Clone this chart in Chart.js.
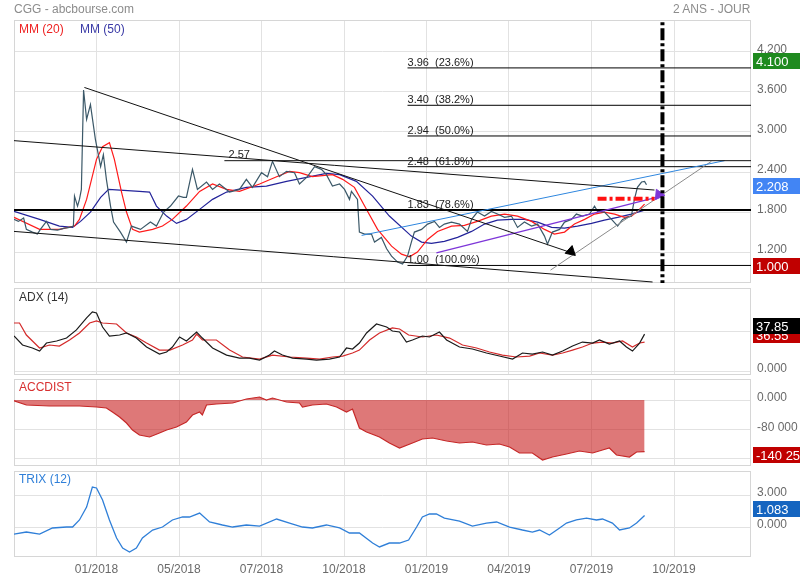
<!DOCTYPE html>
<html><head><meta charset="utf-8">
<script src="https://cdn.jsdelivr.net/npm/chart.js@4.4.1/dist/chart.umd.min.js"></script>
<style>
body{margin:0;background:#fff;width:800px;height:580px;overflow:hidden;font-family:"Liberation Sans",Arial,sans-serif;}
.c{position:absolute;left:0;}
.lbl{position:absolute;font-size:12px;white-space:nowrap;line-height:14px;z-index:5;}
</style></head><body>
<canvas id="cMain" class="c" style="top:0px" width="800" height="290"></canvas>
<canvas id="cAdx" class="c" style="top:286px" width="800" height="91"></canvas>
<canvas id="cAcc" class="c" style="top:377px" width="800" height="91"></canvas>
<canvas id="cTrix" class="c" style="top:469px" width="800" height="111"></canvas>
<div class="lbl" style="left:14px;top:2px;color:#8c8c8c">CGG - abcbourse.com</div>
<div class="lbl" style="left:673px;top:2px;color:#8c8c8c">2 ANS - JOUR</div>
<div class="lbl" style="left:19px;top:22px;color:#ee2222">MM (20)</div>
<div class="lbl" style="left:80px;top:22px;color:#3a3aa6">MM (50)</div>
<div class="lbl" style="left:19px;top:290px;color:#333">ADX (14)</div>
<div class="lbl" style="left:19px;top:380px;color:#d83030">ACCDIST</div>
<div class="lbl" style="left:19px;top:472px;color:#2f7fd8">TRIX (12)</div>
<script>
// ---------- X axis (months since 10/2017) ----------
const X_MAX = 26.8;
const X_TICK_MONTHS = [3, 6, 9, 12, 15, 18, 21, 24];
const X_TICK_LABELS = ['01/2018', '05/2018', '07/2018', '10/2018', '01/2019', '04/2019', '07/2019', '10/2019'];

// ---------- Price ----------
const PRICE_T = [0,0.16,0.35,0.45,0.67,0.85,0.96,1.18,1.33,1.58,1.84,2.02,2.16,2.2,2.31,2.38,2.45,2.53,2.64,2.78,2.96,3.15,3.25,3.36,3.51,3.62,3.87,4.09,4.27,4.6,4.96,5.18,5.44,5.69,5.98,6.16,6.27,6.49,6.67,7.0,7.22,7.47,7.84,8.2,8.45,8.67,9.0,9.22,9.4,9.65,9.91,10.2,10.38,10.67,10.93,11.18,11.36,11.58,11.84,12.02,12.2,12.27,12.49,12.56,12.75,13.0,13.11,13.36,13.55,13.73,13.95,14.13,14.31,14.45,14.56,14.82,15.04,15.29,15.47,15.65,15.91,16.2,16.49,16.64,16.85,17.11,17.36,17.58,17.84,18.09,18.31,18.56,18.82,19.04,19.29,19.4,19.58,19.84,20.02,20.27,20.45,20.67,20.93,21.11,21.22,21.47,21.73,21.95,22.13,22.31,22.45,22.56,22.67,22.82,22.93,23.0];
const PRICE = [1.69,1.66,1.71,1.54,1.50,1.47,1.54,1.66,1.54,1.53,1.56,1.57,1.59,2.04,1.89,1.99,2.14,3.63,3.19,3.41,2.89,2.48,2.66,2.29,1.89,1.65,1.50,1.35,1.59,1.54,1.65,1.59,1.80,1.89,2.04,2.02,2.02,2.44,2.14,2.25,2.14,2.22,2.10,2.14,2.29,2.17,2.39,2.33,2.56,2.33,2.41,2.39,2.22,2.33,2.48,2.44,2.36,2.19,2.22,2.14,1.99,2.11,1.99,1.50,1.47,1.47,1.35,1.42,1.25,1.14,1.05,1.02,1.14,1.35,1.50,1.54,1.62,1.66,1.57,1.62,1.65,1.62,1.51,1.69,1.80,1.74,1.81,1.77,1.72,1.74,1.57,1.65,1.59,1.62,1.44,1.32,1.50,1.54,1.65,1.69,1.77,1.74,1.77,1.89,1.81,1.80,1.69,1.59,1.69,1.72,1.74,1.99,2.17,2.25,2.26,2.208];

const MA20_T = [0,0.93,1.65,2.2,2.38,2.64,3.0,3.22,3.47,3.65,3.91,4.09,4.31,4.56,5.04,5.4,5.76,6.27,6.75,7.22,7.73,8.2,8.93,9.55,10.02,10.38,10.85,11.58,11.95,12.38,12.75,13.22,13.73,14.09,14.38,14.67,15.04,15.4,15.91,16.38,16.85,17.36,17.84,18.31,18.82,19.29,19.65,20.02,20.38,20.75,21.11,21.47,21.84,22.2,22.45,22.67,22.93];
const MA20 = [1.72,1.54,1.54,1.59,1.69,1.99,2.59,2.78,2.84,2.59,2.10,1.80,1.54,1.50,1.54,1.59,1.69,1.89,2.11,2.22,2.14,2.11,2.22,2.33,2.41,2.39,2.33,2.36,2.29,2.17,1.89,1.54,1.29,1.17,1.13,1.20,1.39,1.51,1.59,1.60,1.66,1.74,1.77,1.74,1.66,1.54,1.47,1.50,1.62,1.69,1.77,1.80,1.77,1.72,1.74,1.81,1.92];

const MA50_T = [0,0.93,1.65,2.13,2.42,2.78,3.15,3.44,4.56,4.93,5.18,5.55,5.91,6.27,6.75,7.22,7.73,8.45,9.18,9.91,10.64,11.36,11.84,12.45,13.04,13.65,14.45,14.82,15.18,15.65,16.13,16.64,17.11,17.58,18.09,18.56,19.04,19.55,20.02,20.49,21.0,21.47,21.95,22.45,22.93];
const MA50 = [1.81,1.69,1.59,1.57,1.66,1.80,2.02,2.14,2.11,2.10,1.89,1.74,1.63,1.69,1.84,1.99,2.10,2.17,2.19,2.26,2.32,2.38,2.36,2.26,2.04,1.74,1.44,1.35,1.33,1.36,1.42,1.51,1.62,1.68,1.69,1.69,1.65,1.57,1.56,1.59,1.63,1.68,1.72,1.77,1.83];

// ---------- Drawn studies (months, price) ----------
const TREND_A_T = [2.56, 20.2],  TREND_A_V = [3.667, 1.20];
const TREND_B_T = [0, 23.29],    TREND_B_V = [2.87, 2.13];
const TREND_C_T = [0, 23.22],    TREND_C_V = [1.51, 0.752];
const LEVEL_257_T = [7.65, X_MAX], LEVEL_257 = 2.57;
const TREND_BLUE_T = [12.64, 25.84], TREND_BLUE_V = [1.45, 2.57];
const TREND_PURPLE_T = [15.36, 23.36], TREND_PURPLE_V = [1.19, 2.02];
const TREND_GREY_T = [19.51, 25.36], TREND_GREY_V = [0.93, 2.56];
const RED_DASH_T = [21.22, 23.29], RED_DASH_V = 2.0;
const TODAY_T = 23.58;
const ARROW_BLACK = {x: 20.25, y: 1.21};
const ARROW_PURPLE = {x: 23.45, y: 2.06};
const FIB_START = 14.31;
const FIB_LEVELS = [3.96, 3.40, 2.94, 2.48, 1.83, 1.00];
const FIB_PCTS = ['23.6%', '38.2%', '50.0%', '61.8%', '78.6%', '100.0%'];
const MAIN_Y_TICKS = [1.2, 1.8, 2.4, 3.0, 3.6, 4.2];
const MAIN_BADGE_VALUES = [4.1, 2.208, 1.0];
const MAIN_BADGE_TEXT = ['4.100', '2.208', '1.000'];

// ---------- ADX ----------
const ADX_T = [0,0.31,0.67,0.93,1.18,1.55,1.91,2.27,2.64,2.85,3.0,3.22,3.47,3.84,4.09,4.45,4.82,5.29,5.55,5.76,6.02,6.27,6.64,6.85,7.22,7.73,8.2,8.56,8.93,9.29,9.47,9.76,10.13,10.64,11.0,11.47,11.84,12.09,12.31,12.56,12.82,13.18,13.55,13.76,14.02,14.27,14.49,14.85,15.11,15.47,15.73,16.2,16.67,17.18,17.65,18.13,18.49,18.85,19.22,19.58,19.95,20.31,20.67,21.04,21.29,21.65,22.02,22.27,22.49,22.75,22.93];
const ADX = [35.9,26.7,23.6,20.5,28.7,30.8,33.8,42.1,54.4,60.5,59.5,45.1,35.9,36.9,39.0,33.8,24.6,17.4,19.5,24.6,34.9,30.8,40.0,33.8,23.6,16.4,13.3,13.3,11.3,16.4,20.5,16.4,13.3,12.3,11.3,12.3,14.4,23.6,22.6,28.7,39.0,48.2,45.1,41.0,40.0,29.7,31.8,35.9,34.9,40.0,31.8,24.6,22.6,18.5,15.4,12.3,18.5,17.4,19.5,16.4,20.5,25.6,29.7,28.7,31.8,27.7,30.8,24.6,20.5,28.7,37.85];
const ADXR_T = [0,0.2,0.45,0.93,1.29,1.65,2.02,2.38,2.75,3.0,3.22,3.73,4.09,4.45,4.82,5.29,5.67,6.13,6.49,6.64,6.85,7.36,7.84,8.31,8.93,9.4,10.02,10.64,11.11,11.58,11.95,12.31,12.56,12.93,13.29,13.76,14.02,14.35,14.85,15.36,15.84,16.31,16.82,17.29,17.76,18.27,18.75,19.11,19.58,19.95,20.31,20.67,21.04,21.4,21.76,22.13,22.49,22.75,22.93];
const ADXR = [49.2,49.2,36.9,23.6,26.7,25.6,31.8,39.0,49.2,51.3,49.2,48.2,39.0,34.9,28.7,21.5,21.5,26.7,31.8,37.9,31.8,31.8,21.5,14.4,12.3,16.4,14.4,13.3,12.3,14.4,15.4,18.5,21.5,31.8,39.0,44.1,43.1,36.9,34.9,36.9,33.8,26.7,23.6,19.5,16.4,14.4,15.4,18.5,16.4,18.5,21.5,24.6,28.7,29.7,28.7,30.8,24.6,28.7,29.7];
const ADX_Y_TICKS = [0, 40];
const ADX_BADGE_VALUES = [36.55, 37.85];
const ADX_BADGE_TEXT = ['36.55', '37.85'];

// ---------- ACCDIST ----------
const ACC_T = [0,0.45,1.29,2.38,3.0,3.36,3.58,3.84,4.09,4.31,4.56,4.93,5.29,5.55,5.91,6.27,6.49,6.75,6.85,7.0,7.36,7.95,8.45,8.93,9.18,9.4,9.91,10.38,10.49,10.85,11.36,11.73,12.09,12.31,12.56,12.82,13.29,13.65,14.02,14.49,14.85,15.22,15.73,16.2,16.67,17.18,17.65,18.02,18.38,18.85,19.22,19.58,20.09,20.56,21.04,21.4,21.65,21.91,22.38,22.64,22.93];
const ACC = [-2000,-13500,-16300,-16300,-19000,-21700,-32500,-46100,-62400,-81400,-94900,-100300,-89500,-81400,-73200,-59700,-40700,-32500,-40700,-13600,-10800,-8100,2700,8100,0,5400,-5400,-8100,-19000,-13600,-10800,-19000,-32500,-24400,-75900,-86800,-100300,-116600,-130200,-116600,-105800,-103100,-111200,-116600,-113900,-122000,-119300,-127500,-143700,-143700,-162700,-154600,-146400,-138300,-143700,-135600,-130200,-149200,-154600,-141000,-140251];
const ACC_Y_TICKS = [0, -80000, -160000];
const ACC_Y_LABELS = ['0.000', '-80 000', ''];
const ACC_BADGE_VALUES = [-140251];
const ACC_BADGE_TEXT = ['-140 251'];

// ---------- TRIX ----------
const TRIX_T = [0,0.45,0.93,1.4,1.91,2.13,2.38,2.64,2.85,3.0,3.22,3.47,3.73,3.95,4.2,4.45,4.67,5.04,5.4,5.76,6.13,6.38,6.75,7.11,7.58,7.95,8.45,8.93,9.55,10.02,10.49,10.85,11.36,11.84,12.2,12.56,13.04,13.29,13.65,14.02,14.35,14.64,14.85,15.11,15.36,15.65,16.2,16.67,17.18,17.55,18.02,18.49,18.85,19.11,19.47,19.84,20.09,20.45,20.82,21.18,21.4,21.76,22.02,22.38,22.64,22.93];
const TRIX = [-0.66,-0.47,-0.66,-0.09,0,0,0.66,1.87,3.75,3.66,2.53,0.66,-1.03,-1.97,-2.34,-1.97,-1.03,-0.28,0,0.66,0.94,0.94,1.31,0.47,0.19,0,0.19,0.09,0.75,0.37,0,-0.09,0.19,-0.09,-0.56,-0.56,-1.5,-1.87,-1.5,-1.5,-1.22,0,0.94,1.22,1.22,0.84,0.56,0.09,0.37,0.47,0,-0.28,-0.47,-0.28,-0.75,-0.09,0.37,0.66,0.84,0.66,0.75,0.37,-0.28,-0.09,0.37,1.083];
const TRIX_Y_TICKS = [0, 3];
const TRIX_BADGE_VALUES = [1.083];
const TRIX_BADGE_TEXT = ['1.083'];

// ================= rendering =================
const FONT = '"Liberation Sans", Arial, sans-serif';
const GRID = '#e2e2e2';
const pts = (t, v) => t.map((x, i) => ({x, y: Array.isArray(v) ? v[i] : v}));
const ln = (t, v, color, width, extra) => Object.assign({
  data: pts(t, v), borderColor: color, borderWidth: width, pointRadius: 0,
  fill: false, tension: 0, borderCapStyle: 'butt'
}, extra || {});

const deco = {
  id: 'deco',
  beforeDatasetsDraw(chart) {
    const a = chart.chartArea, ctx = chart.ctx;
    ctx.save(); ctx.strokeStyle = '#d6d6d6'; ctx.lineWidth = 1;
    ctx.strokeRect(Math.round(a.left) + 0.5, Math.round(a.top) + 0.5, Math.round(a.right - a.left) - 1, Math.round(a.bottom - a.top) - 1);
    ctx.restore();
  },
  afterDatasetsDraw(chart, args, o) {
    const ctx = chart.ctx, xs = chart.scales.x, ys = chart.scales.y;
    ctx.save();
    ctx.font = '11px ' + FONT; ctx.fillStyle = '#222'; ctx.textBaseline = 'alphabetic'; ctx.textAlign = 'left';
    (o.texts || []).forEach(t => ctx.fillText(t.text, xs.getPixelForValue(t.x), ys.getPixelForValue(t.y) + t.dy));
    ctx.restore();
  },
  afterDraw(chart, args, o) {
    const ctx = chart.ctx, ys = chart.scales.y;
    ctx.save();
    (o.badges || []).forEach(b => {
      const y = Math.round(ys.getPixelForValue(b.value) + b.dy);
      ctx.fillStyle = b.color; ctx.fillRect(753, y - 8, 47, 16);
      ctx.fillStyle = '#fff'; ctx.font = '13px ' + FONT; ctx.textBaseline = 'middle'; ctx.textAlign = 'left';
      ctx.fillText(b.text, 756, y + 1);
    });
    ctx.restore();
  }
};

function makeChart(id, datasets, cfg) {
  return new Chart(document.getElementById(id), {
    type: 'line',
    data: {datasets},
    options: {
      responsive: false, animation: false, devicePixelRatio: 1,
      layout: {padding: {top: cfg.padTop, bottom: cfg.padBottom, left: 14, right: 0}},
      plugins: {legend: {display: false}, tooltip: {enabled: false}, deco: {texts: cfg.texts, badges: cfg.badges}},
      scales: {
        x: {
          type: 'linear', min: 0, max: X_MAX,
          afterBuildTicks: s => { s.ticks = X_TICK_MONTHS.map(v => ({value: v})); },
          afterFit: s => { s.height = cfg.xHeight; s.paddingLeft = 0; s.paddingRight = 0; s.paddingTop = 0; s.paddingBottom = 0; },
          grid: {color: GRID, drawTicks: false},
          border: {display: false},
          ticks: {display: cfg.showX, autoSkip: false, maxRotation: 0, padding: 5, color: '#6a6a6a',
                  font: {size: 12, family: FONT}, callback: (v, i) => X_TICK_LABELS[i]}
        },
        y: {
          position: 'right', min: cfg.yMin, max: cfg.yMax,
          afterBuildTicks: s => { s.ticks = cfg.yTicks.map(v => ({value: v})); },
          afterFit: s => { s.width = 49; s.paddingTop = 0; s.paddingBottom = 0; s.paddingLeft = 0; s.paddingRight = 0; },
          grid: {color: GRID, drawTicks: false},
          border: {display: false},
          ticks: {padding: 6, color: '#6a6a6a', labelOffset: -2, font: {size: 12, family: FONT}, callback: cfg.yLabel}
        }
      }
    },
    plugins: [deco]
  });
}

// ---- main price panel ----
const mainSets = [
  ln([TODAY_T, TODAY_T], [0.6, 4.8], '#000', 4, {borderDash: [12, 3, 3, 3]}),
  {type: 'scatter', data: [ARROW_BLACK], pointStyle: 'triangle', pointRadius: 6, pointRotation: 12, backgroundColor: '#000', borderColor: '#000', borderWidth: 1},
  {type: 'scatter', data: [ARROW_PURPLE], pointStyle: 'triangle', pointRadius: 6, pointRotation: 95, backgroundColor: '#7d35d8', borderColor: '#7d35d8', borderWidth: 1},
  ln(RED_DASH_T, RED_DASH_V, '#ff1010', 4, {borderDash: [9, 3, 3, 3]}),
  ln(TREND_A_T, TREND_A_V, '#111', 1),
  ln(TREND_B_T, TREND_B_V, '#111', 1),
  ln(TREND_C_T, TREND_C_V, '#111', 1),
  ln(LEVEL_257_T, LEVEL_257, '#111', 1),
  ln(TREND_BLUE_T, TREND_BLUE_V, '#2e86de', 1),
  ln(TREND_PURPLE_T, TREND_PURPLE_V, '#7d35d8', 1.3),
  ln(TREND_GREY_T, TREND_GREY_V, '#8a8a8a', 1),
].concat(FIB_LEVELS.map(l => l === 1.83
  ? ln([0, X_MAX], l, '#000', 2)
  : ln([FIB_START, X_MAX], l, '#000', 1))
).concat([
  ln(PRICE_T, PRICE, '#3b5868', 1.2),
  ln(MA20_T, MA20, '#ff1a1a', 1.2),
  ln(MA50_T, MA50, '#23239a', 1.2),
]);

const mainTexts = FIB_LEVELS.map((l, i) => ({x: FIB_START, y: l, dy: -2, text: l.toFixed(2) + '  (' + FIB_PCTS[i] + ')'}))
  .concat([{x: LEVEL_257_T[0] + 0.15, y: LEVEL_257, dy: -3, text: LEVEL_257.toFixed(2)}]);

const MAIN_BADGE_COLORS = ['#1f8a1f', '#4285f4', '#c00000'];
makeChart('cMain', mainSets, {
  padTop: 20, padBottom: 6, xHeight: 0, showX: false,
  yMin: 0.737, yMax: 4.678, yTicks: MAIN_Y_TICKS, yLabel: v => Number(v).toFixed(3),
  texts: mainTexts,
  badges: MAIN_BADGE_VALUES.map((v, i) => ({value: v, text: MAIN_BADGE_TEXT[i], color: MAIN_BADGE_COLORS[i], dy: [2, 1, 1][i]}))
});

// ---- ADX ----
makeChart('cAdx', [
  ln(ADX_T, ADX, '#1a1a1a', 1.2),
  ln(ADXR_T, ADXR, '#d42a2a', 1.2)
], {
  padTop: 2, padBottom: 2, xHeight: 0, showX: false,
  yMin: -4, yMax: 85, yTicks: ADX_Y_TICKS, yLabel: v => (v === 0 ? '0.000' : ''),
  badges: [
    {value: ADX_BADGE_VALUES[0], text: ADX_BADGE_TEXT[0], color: '#c00000', dy: 0},
    {value: ADX_BADGE_VALUES[1], text: ADX_BADGE_TEXT[1], color: '#000', dy: -8}
  ]
});

// ---- ACCDIST ----
makeChart('cAcc', [
  ln(ACC_T, ACC, '#c62828', 1.2, {fill: 'origin', backgroundColor: 'rgba(200,30,30,0.6)'})
], {
  padTop: 2, padBottom: 2, xHeight: 0, showX: false,
  yMin: -179000, yMax: 57000, yTicks: ACC_Y_TICKS, yLabel: (v, i) => ACC_Y_LABELS[i],
  badges: [{value: ACC_BADGE_VALUES[0], text: ACC_BADGE_TEXT[0], color: '#c00000', dy: 3}]
});

// ---- TRIX ----
makeChart('cTrix', [
  ln(TRIX_T, TRIX, '#2f7fd8', 1.3)
], {
  padTop: 2, padBottom: 0, xHeight: 23, showX: true,
  yMin: -2.81, yMax: 5.25, yTicks: TRIX_Y_TICKS, yLabel: v => Number(v).toFixed(3),
  badges: [{value: TRIX_BADGE_VALUES[0], text: TRIX_BADGE_TEXT[0], color: '#1565c0', dy: -6}]
});
</script>
</body></html>
